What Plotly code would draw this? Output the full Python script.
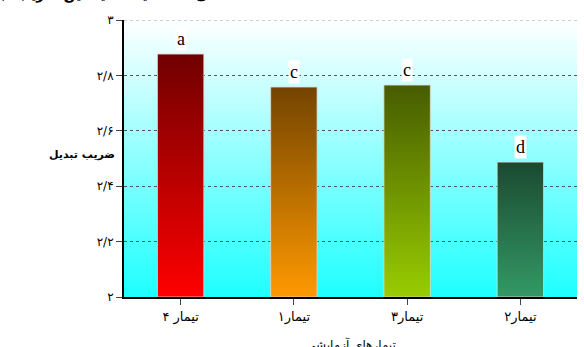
import base64
import struct
import zlib

import plotly.graph_objects as go

# Data
treatments = ["تیمار ۴", "تیمار۱", "تیمار۳", "تیمار۲"]
conversion = [2.877, 2.758, 2.765, 2.487]
letters = ["a", "c", "c", "d"]
y_ticks = [2.0, 2.2, 2.4, 2.6, 2.8, 3.0]
y_tick_text = ["۲", "۲/۲", "۲/۴", "۲/۶", "۲/۸", "۳"]

# Bar gradient colours: (bottom, top)
bar_colors = [
    ("#ff0000", "#700000"),
    ("#ff9900", "#734400"),
    ("#99cc00", "#465c00"),
    ("#339966", "#1a4a30"),
]
BAR_HALF = 0.205


def gradient_png(top_rgb, bottom_rgb, height=256):
    """Build a 1-pixel-wide vertical gradient PNG as a data URI."""
    rows = b""
    for i in range(height):
        t = i / (height - 1)
        px = bytes(round(top_rgb[k] + (bottom_rgb[k] - top_rgb[k]) * t) for k in range(3))
        rows += b"\x00" + px

    def chunk(tag, data):
        c = struct.pack(">I", len(data)) + tag + data
        return c + struct.pack(">I", zlib.crc32(tag + data) & 0xFFFFFFFF)

    png = b"\x89PNG\r\n\x1a\n"
    png += chunk(b"IHDR", struct.pack(">IIBBBBB", 1, height, 8, 2, 0, 0, 0))
    png += chunk(b"IDAT", zlib.compress(rows))
    png += chunk(b"IEND", b"")
    return "data:image/png;base64," + base64.b64encode(png).decode()


fig = go.Figure()

# Gradient-filled bars
for i, (val, (c_bot, c_top)) in enumerate(zip(conversion, bar_colors)):
    fig.add_trace(go.Scatter(
        x=[i - BAR_HALF, i + BAR_HALF, i + BAR_HALF, i - BAR_HALF, i - BAR_HALF],
        y=[y_ticks[0], y_ticks[0], val, val, y_ticks[0]],
        mode="lines",
        fill="toself",
        fillgradient=dict(type="vertical", start=y_ticks[0], stop=val,
                          colorscale=[[0, c_bot], [1, c_top]]),
        line=dict(color="rgba(225,215,215,0.8)", width=1),
        hoverinfo="skip",
        showlegend=False,
    ))

# Significance letters above bars
for i, (val, lt) in enumerate(zip(conversion, letters)):
    fig.add_annotation(
        x=i, y=val, xref="x", yref="y", text=lt, showarrow=False,
        yanchor="bottom", yshift=3, bgcolor="white",
        font=dict(family="Liberation Serif", size=18, color="black"),
    )

# Y axis title (horizontal)
fig.add_annotation(
    x=-0.17, y=0.513, xref="paper", yref="paper", text="<b>ضریب تبدیل</b>",
    showarrow=False, font=dict(family="DejaVu Sans", size=11, color="black"),
)

# X axis title
fig.add_annotation(
    x=0.5, y=0, xref="paper", yref="paper", text="تیمارهای آزمایشی",
    showarrow=False, yanchor="top", yshift=-38,
    font=dict(family="DejaVu Sans", size=12, color="black"),
)

# Figure caption at the top edge
fig.add_annotation(
    x=0.238, y=1, xref="paper", yref="paper",
    text="<b>شکل ۲- مقایسه میانگین ضریب تبدیل غذایی در تیمارهای آزمایشی</b>",
    showarrow=False, xanchor="right", yanchor="bottom", yshift=15,
    font=dict(family="DejaVu Sans", size=14, color="black"),
)

fig.add_layout_image(
    source=gradient_png((255, 255, 255), (30, 255, 255)),
    xref="paper", yref="paper", x=0, y=1, sizex=1, sizey=1,
    xanchor="left", yanchor="top", sizing="stretch", layer="below",
)

# Light dotted line along the top of the plot area
fig.add_shape(
    type="line", xref="paper", yref="y", x0=0, x1=1, y0=y_ticks[-1], y1=y_ticks[-1],
    line=dict(color="#999", width=1, dash="dot"), layer="below",
)

fig.update_layout(
    width=584, height=347,
    margin=dict(l=124, r=7, t=20, b=50),
    paper_bgcolor="white",
    plot_bgcolor="rgba(0,0,0,0)",
    showlegend=False,
    xaxis=dict(
        range=[-0.5, len(treatments) - 0.5],
        tickvals=list(range(len(treatments))),
        ticktext=treatments,
        ticks="outside", ticklen=6, tickcolor="#444", tickwidth=1,
        showline=True, linecolor="black", linewidth=2,
        showgrid=False, zeroline=False,
        tickfont=dict(family="DejaVu Sans", size=13, color="black"),
        fixedrange=True,
    ),
    yaxis=dict(
        range=[2, 3],
        tickvals=y_ticks,
        ticktext=y_tick_text,
        ticks="outside", ticklen=6, tickcolor="#444", tickwidth=1,
        showline=True, linecolor="black", linewidth=2,
        showgrid=True, gridcolor="#555", gridwidth=1, griddash="dot",
        zeroline=False,
        tickfont=dict(family="DejaVu Sans", size=12, color="black"),
        fixedrange=True,
    ),
)

fig.write_html("out.html")
